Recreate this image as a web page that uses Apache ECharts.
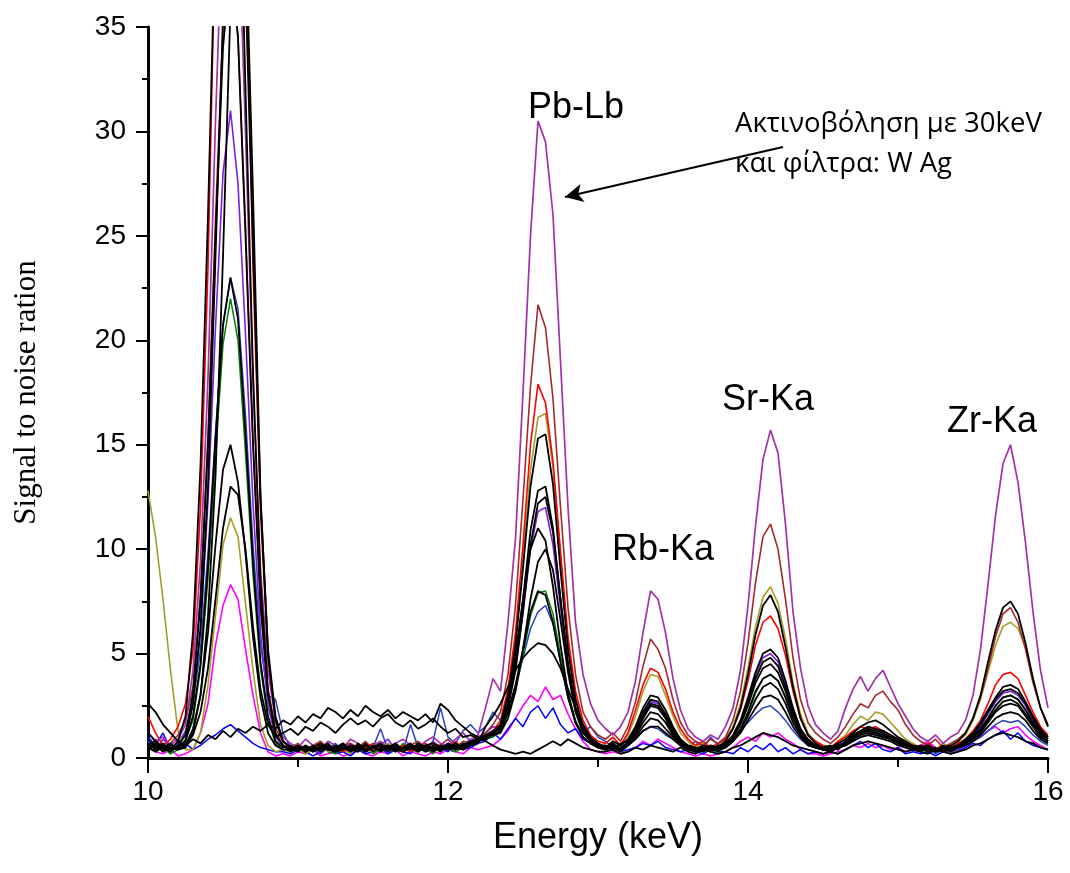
<!DOCTYPE html>
<html><head><meta charset="utf-8">
<script src="https://cdn.jsdelivr.net/npm/echarts@6/dist/echarts.min.js"></script>
<style>html,body{margin:0;padding:0;background:#fff}#c{width:1070px;height:873px}</style>
</head><body><div id="c"></div>
<script>
const energy = [10.00,10.05,10.10,10.15,10.20,10.25,10.30,10.35,10.40,10.45,10.50,10.55,10.60,10.65,10.70,10.75,10.80,10.85,10.90,10.95,
11.00,11.05,11.10,11.15,11.20,11.25,11.30,11.35,11.40,11.45,11.50,11.55,11.60,11.65,11.70,11.75,11.80,11.85,11.90,11.95,
12.00,12.05,12.10,12.15,12.20,12.25,12.30,12.35,12.40,12.45,12.50,12.55,12.60,12.65,12.70,12.75,12.80,12.85,12.90,12.95,
13.00,13.05,13.10,13.15,13.20,13.25,13.30,13.35,13.40,13.45,13.50,13.55,13.60,13.65,13.70,13.75,13.80,13.85,13.90,13.95,
14.00,14.05,14.10,14.15,14.20,14.25,14.30,14.35,14.40,14.45,14.50,14.55,14.60,14.65,14.70,14.75,14.80,14.85,14.90,14.95,
15.00,15.05,15.10,15.15,15.20,15.25,15.30,15.35,15.40,15.45,15.50,15.55,15.60,15.65,15.70,15.75,15.80,15.85,15.90,15.95,16.00];

const purple = [1.2,0.8,1.0,0.6,0.9,1.6,
 4.2,9.4,18.2,30.5,41,45,41,30,18,9,4.2,1.8,1.0,
 0.7,0.5,0.9,0.6,0.4,0.8,0.6,0.5,0.9,0.7,0.4,0.6,0.8,0.5,0.7,0.9,0.6,0.5,0.8,1.0,0.7,0.6,0.9,1.2,0.8,1.1,
 2.4,3.8,3.2,6.5,10.5,17.5,25,30.5,29.5,26,19,12,6.5,4.0,2.6,1.8,
 1.4,1.1,1.5,
 2.2,3.7,6.0,8.0,7.6,6.0,3.8,2.3,1.4,
 1.0,0.8,1.1,0.9,
 1.5,2.4,4.2,7.3,11.1,14.3,15.7,14.6,11.2,7.0,4.3,2.5,1.6,1.2,
 0.9,1.3,
 2.4,3.3,3.9,3.2,3.8,4.2,3.4,2.6,2.0,1.4,
 1.0,0.8,1.1,0.7,1.0,
 1.2,1.8,3.0,5.2,8.3,11.6,14.1,15.0,13.2,10.3,7.0,4.2,2.4];

const maroon = [0.5,0.9,0.4,0.7,1.1,1.8,
 3.4,7.9,15.4,25.8,35,38.5,34.5,25.5,15.2,7.6,3.3,1.4,0.8,
 0.5,0.7,0.4,0.6,0.8,0.5,0.3,0.6,0.7,0.5,0.8,0.4,0.6,0.5,0.7,0.4,0.6,0.8,0.5,0.7,0.6,0.9,0.5,0.8,0.7,1.0,
 1.2,1.6,2.2,4.0,7.3,12.4,17.8,21.7,20.6,17.2,12.0,7.2,4.0,2.2,1.5,1.1,
 0.9,1.2,0.8,
 1.5,2.7,4.4,5.7,5.2,4.3,2.8,1.7,1.1,
 0.8,0.6,0.9,0.7,
 1.0,1.8,3.2,5.5,8.4,10.6,11.2,10.0,7.6,4.8,2.8,1.7,1.2,0.9,
 0.7,1.0,
 1.5,2.1,2.6,2.4,3.0,3.2,2.7,2.3,1.6,1.1,
 0.8,0.6,0.9,0.5,0.7,
 0.9,1.2,1.9,2.9,4.3,5.8,6.9,7.2,6.5,5.2,3.6,2.4,1.6];

const red = [2.0,1.2,0.6,0.9,1.5,2.6,
 5.2,12,23.5,40,54,60,54,40,23.5,11.8,4.8,1.8,0.8,
 0.4,0.6,0.3,0.5,0.7,0.4,0.5,0.3,0.6,0.4,0.5,0.7,0.3,0.5,0.4,0.6,0.3,0.5,0.7,0.4,0.6,0.5,0.8,0.4,0.6,0.9,
 1.0,1.3,1.8,3.3,6.0,10.2,15.0,17.9,17.0,14.2,9.9,5.8,3.2,1.8,1.1,0.8,
 0.7,1.0,0.6,
 1.2,2.3,3.5,4.3,4.1,3.3,2.2,1.4,0.9,
 0.6,0.8,0.5,0.7,
 0.9,1.4,2.3,3.7,5.4,6.5,6.8,6.2,4.9,3.2,1.9,1.1,0.8,0.6,
 0.5,0.8,
 1.0,1.3,1.5,1.4,1.5,1.3,1.1,0.9,0.7,0.6,
 0.5,0.7,0.4,0.6,0.5,
 0.7,0.9,1.3,1.8,2.6,3.5,4.0,4.1,3.8,3.0,2.2,1.5,1.1];

const olive = [12.8,10.6,7.6,4.2,1.3,0.4,
 0.4,1.2,3.5,6.8,10.2,11.5,10.6,7.4,4.2,1.6,0.6,0.3,0.4,
 0.3,0.5,0.2,0.4,0.6,0.3,0.5,0.4,0.2,0.6,0.4,0.3,0.5,0.7,0.4,0.3,0.6,0.4,0.5,0.3,0.6,0.4,0.7,0.5,0.6,0.8,
 0.9,1.1,1.6,3.0,5.6,9.5,13.8,16.3,16.5,13.9,9.6,5.5,3.0,1.5,0.9,0.6,
 0.5,0.8,0.6,
 1.1,2.0,3.2,4.0,3.9,3.0,2.0,1.2,0.8,
 0.5,0.7,0.4,0.6,
 0.9,1.5,2.6,4.3,6.3,7.7,8.2,7.4,5.7,3.6,2.1,1.2,0.8,0.6,
 0.5,0.8,
 1.1,1.6,2.0,1.8,2.2,2.1,1.7,1.3,0.9,0.7,
 0.5,0.6,0.4,0.7,0.5,
 0.8,1.1,1.8,2.8,4.1,5.4,6.3,6.5,6.2,5.3,3.8,2.4,1.5];

const blueA = [0.8,0.4,0.6,0.3,0.7,1.3,
 2.6,5.2,9.8,15.6,20.8,23,21.5,16.4,10.2,5.4,3.0,2.8,1.2,
 0.5,0.3,0.6,0.4,0.2,0.5,0.7,0.3,0.4,0.6,0.3,0.5,1.4,0.4,0.6,0.3,1.6,0.5,0.4,0.8,2.4,1.0,0.7,1.3,1.6,1.2,
 1.5,2.2,1.8,2.3,3.4,4.8,6.2,7.0,7.3,6.4,4.6,2.9,1.7,1.2,1.5,1.0,
 0.8,0.5,0.7,
 0.6,0.9,1.3,1.5,1.4,1.1,0.9,0.6,0.5,
 0.8,0.4,1.0,0.6,
 0.7,0.9,1.3,1.7,2.1,2.4,2.5,2.2,1.8,1.3,0.9,0.6,0.5,0.4,
 0.3,0.5,
 0.6,0.8,1.0,1.1,1.2,1.0,0.9,0.7,0.5,0.4,
 0.3,0.5,0.2,0.4,0.3,
 0.4,0.6,0.8,1.0,1.3,1.6,1.8,1.7,1.8,1.5,1.1,0.8,0.6];

const blueB = [1.0,0.6,1.2,0.4,0.5,0.7,
 0.4,0.6,0.9,1.1,1.4,1.6,1.3,1.0,0.7,0.5,0.4,0.3,0.3,
 0.2,0.4,0.3,0.1,0.3,0.5,0.2,0.3,0.1,0.4,0.2,0.3,0.5,0.2,0.4,0.3,0.2,0.6,0.3,0.4,0.5,0.3,0.6,0.4,0.5,0.7,
 0.8,1.2,0.9,1.4,1.9,1.5,2.2,2.5,1.9,2.4,1.6,1.2,1.4,0.9,0.7,0.5,
 0.4,0.6,0.3,
 0.4,0.5,0.7,0.6,0.8,0.5,0.4,0.3,0.4,
 0.3,0.2,0.4,0.3,
 0.3,0.2,0.5,0.3,0.6,0.4,0.7,0.3,0.5,0.2,0.4,0.2,0.3,0.2,
 0.3,0.2,
 0.4,0.6,0.8,0.5,0.7,0.4,0.3,0.5,0.2,0.3,
 0.2,0.3,0.1,0.3,0.2,
 0.3,0.5,0.7,0.6,0.9,1.1,1.3,0.9,1.2,0.8,0.6,0.5,0.4];

const magenta = [0.5,0.3,0.2,0.4,0.1,0.2,
 0.4,1.2,2.6,5.4,7.3,8.3,7.6,5.2,3.0,1.2,0.3,0.1,0.2,
 0.1,0.3,0.2,0.4,0.1,0.2,0.3,0.1,0.2,0.4,0.2,0.1,0.3,0.2,0.4,0.1,0.3,0.2,0.1,0.3,0.2,0.4,0.3,0.2,0.5,0.4,
 0.5,0.6,0.9,1.3,1.9,2.5,3.0,2.7,3.4,2.8,3.0,2.1,1.4,0.8,0.4,0.3,
 0.2,0.3,0.2,
 0.3,0.5,0.8,0.6,0.9,0.7,0.5,0.3,0.2,
 0.1,0.2,0.1,0.2,
 0.3,0.5,0.8,1.0,0.8,1.2,1.0,1.2,0.9,0.7,0.4,0.2,0.2,0.1,
 0.2,0.3,
 0.4,0.6,0.5,0.7,0.5,0.6,0.4,0.5,0.3,0.4,
 0.6,0.8,0.5,0.4,0.3,
 0.4,0.5,0.8,1.0,1.3,1.5,1.2,1.4,1.5,1.1,0.8,0.6,0.4];

const green = [0.6,0.3,0.5,0.2,0.4,0.9,
 1.8,4.3,8.6,14.5,19.8,22,20,14.6,8.8,4.3,1.8,0.7,0.4,
 0.3,0.5,0.2,0.4,0.6,0.3,0.2,0.5,0.4,0.3,0.6,0.2,0.4,0.5,0.3,0.7,0.4,0.3,0.5,0.2,0.6,0.4,0.3,0.5,0.6,0.8,
 0.9,1.0,1.3,2.1,3.2,4.9,6.8,7.9,8.0,6.9,4.9,3.1,1.8,1.0,0.7,0.5,
 0.4,0.6,0.3,
 0.7,1.2,1.9,2.5,2.4,1.9,1.2,0.7,0.5,
 0.3,0.5,0.4,0.3,
 0.5,0.8,1.3,2.1,3.1,3.8,4.0,3.7,2.9,1.9,1.2,0.7,0.5,0.4,
 0.3,0.5,
 0.7,0.9,1.1,1.3,1.4,1.2,1.0,0.8,0.6,0.5,
 0.4,0.3,0.5,0.3,0.4,
 0.5,0.7,1.0,1.4,1.9,2.5,2.9,3.0,2.8,2.3,1.7,1.1,0.8];

const violet = [0.7,0.4,0.9,0.5,0.6,1.2,
 2.6,6.1,12.3,20.6,28.0,31,27.5,20.3,12.2,6.0,2.5,1.0,0.6,
 0.4,0.6,0.3,0.5,0.2,0.6,0.4,0.3,0.7,0.4,0.5,0.3,0.6,0.9,0.4,0.5,0.3,0.6,0.4,0.8,0.5,0.7,0.4,0.6,0.9,1.0,
 1.2,1.5,1.4,2.5,4.3,7.0,10.0,11.8,12.0,10.2,7.2,4.3,2.3,1.3,0.9,0.7,
 0.5,0.7,0.4,
 0.8,1.3,2.1,2.7,2.6,2.0,1.3,0.8,0.5,
 0.4,0.6,0.3,0.5,
 0.6,1.0,1.7,2.8,4.0,4.8,5.0,4.6,3.6,2.3,1.4,0.8,0.6,0.4,
 0.4,0.6,
 0.8,1.1,1.3,1.5,1.4,1.3,1.1,0.9,0.7,0.5,
 0.4,0.6,0.3,0.5,0.4,
 0.6,0.8,1.1,1.5,2.1,2.7,3.1,3.2,3.0,2.5,1.8,1.2,0.9];

const black1 = [0.9,0.5,0.7,0.4,0.8,2.0,
 6.0,14,26,40,51,54,46,32,18.5,8.5,3.2,1.2,0.6,
 0.4,0.6,0.3,0.5,0.7,0.4,0.3,0.6,0.5,0.4,0.7,0.3,0.5,0.6,0.4,0.5,0.7,0.3,0.6,0.5,0.4,0.7,0.5,0.6,0.8,0.9,
 1.1,1.3,1.6,3.0,5.4,9.1,13.0,15.3,15.5,13.1,9.0,5.2,2.8,1.5,0.9,0.6,
 0.5,0.8,0.6,
 0.9,1.5,2.4,3.0,2.9,2.3,1.5,0.9,0.6,
 0.5,0.4,0.6,0.5,
 0.8,1.4,2.4,4.0,5.9,7.3,7.8,7.0,5.3,3.4,1.9,1.1,0.7,0.5,
 0.5,0.7,
 0.9,1.2,1.5,1.7,1.8,1.6,1.3,1.0,0.8,0.6,
 0.5,0.6,0.4,0.5,0.6,
 0.8,1.2,1.9,3.0,4.6,6.1,7.2,7.5,6.9,5.5,3.8,2.4,1.5];

const black2 = [0.6,0.8,0.4,0.6,0.5,0.8,
 2.6,6.2,13,24,35.5,43.5,44.5,37,24.5,12.5,5.0,1.8,0.8,
 0.5,0.3,0.6,0.4,0.5,0.7,0.3,0.5,0.4,0.6,0.3,0.5,0.7,0.4,0.6,0.3,0.5,0.4,0.6,0.7,0.5,0.4,0.6,0.5,0.7,0.8,
 1.0,1.2,1.5,2.6,4.6,7.6,10.9,12.8,13.0,11.0,7.6,4.5,2.4,1.3,0.8,0.6,
 0.6,0.4,0.7,
 0.8,1.4,2.2,2.8,2.7,2.1,1.4,0.8,0.6,
 0.4,0.6,0.5,0.3,
 0.7,1.1,1.8,2.9,4.1,5.0,5.2,4.8,3.7,2.4,1.4,0.9,0.6,0.5,
 0.6,0.4,
 0.8,1.1,1.3,1.5,1.4,1.3,1.1,0.9,0.7,0.5,
 0.6,0.4,0.5,0.3,0.5,
 0.6,0.9,1.2,1.7,2.3,2.9,3.4,3.5,3.3,2.7,2.0,1.4,1.0];

const black3 = [0.4,0.7,0.5,0.3,0.6,1.1,
 3.1,7.5,15,25,34,38,34.5,25,15,7.3,3.0,1.1,0.6,
 0.3,0.5,0.4,0.6,0.3,0.5,0.4,0.7,0.3,0.5,0.4,0.6,0.3,0.5,0.7,0.4,0.5,0.3,0.6,0.4,0.5,0.6,0.4,0.7,0.6,0.8,
 0.9,1.1,1.6,2.9,4.9,7.6,10.0,11.0,10.4,8.2,5.4,3.1,1.7,1.0,0.7,0.5,
 0.5,0.7,0.4,
 0.7,1.2,1.9,2.5,2.4,1.9,1.2,0.7,0.5,
 0.5,0.3,0.6,0.4,
 0.6,1.0,1.6,2.5,3.6,4.3,4.5,4.1,3.2,2.1,1.3,0.8,0.6,0.4,
 0.5,0.6,
 0.7,1.0,1.2,1.3,1.2,1.1,0.9,0.8,0.6,0.5,
 0.4,0.5,0.3,0.6,0.4,
 0.5,0.7,1.0,1.4,1.9,2.5,2.9,3.0,2.8,2.3,1.7,1.2,0.9];

const black4 = [0.5,0.3,0.6,0.4,0.5,0.8,
 2.0,4.5,9.2,15.3,20.7,23,21,15.5,9.4,4.6,2.0,0.8,0.5,
 0.6,0.4,0.5,0.3,0.6,0.4,0.5,0.7,0.4,0.3,0.6,0.5,0.4,0.6,0.3,0.5,0.4,0.7,0.5,0.3,0.6,0.5,0.4,0.6,0.7,0.9,
 1.0,1.1,1.2,1.9,3.2,5.2,7.6,9.4,10.0,9.0,6.6,4.1,2.2,1.2,0.8,0.6,
 0.4,0.6,0.5,
 0.7,1.1,1.7,2.2,2.1,1.7,1.1,0.7,0.5,
 0.3,0.5,0.4,0.6,
 0.6,0.9,1.4,2.2,3.2,3.8,4.0,3.7,2.9,1.9,1.2,0.7,0.5,0.4,
 0.4,0.5,
 0.6,0.9,1.1,1.2,1.1,1.0,0.9,0.7,0.5,0.4,
 0.5,0.3,0.4,0.5,0.3,
 0.5,0.7,0.9,1.2,1.7,2.2,2.5,2.6,2.5,2.0,1.5,1.0,0.8];

const black5 = [0.7,0.4,0.5,0.3,0.6,0.6,
 1.4,3.0,6.0,10.2,13.8,15,13.2,9.8,5.8,2.9,1.2,0.6,0.4,
 0.4,0.6,0.3,0.5,0.4,0.6,0.3,0.4,0.6,0.5,0.3,0.5,0.4,0.6,0.4,0.3,0.5,0.6,0.4,0.5,0.3,0.6,0.5,0.4,0.6,0.7,
 1.5,2.0,2.6,3.4,4.2,4.8,5.2,5.5,5.4,5.0,4.3,3.3,2.4,1.6,1.0,0.7,
 0.5,0.6,0.4,
 0.6,0.9,1.3,1.5,1.5,1.2,0.9,0.6,0.5,
 0.4,0.3,0.5,0.4,
 0.5,0.8,1.2,1.8,2.4,2.9,3.0,2.8,2.2,1.5,1.0,0.6,0.5,0.4,
 0.3,0.5,
 0.6,0.8,1.0,1.1,1.0,0.9,0.8,0.6,0.5,0.4,
 0.3,0.5,0.4,0.3,0.4,
 0.5,0.6,0.8,1.1,1.5,1.9,2.1,2.2,2.1,1.8,1.3,0.9,0.7];

const black6 = [2.6,2.2,1.6,1.2,0.8,0.6,
 0.9,0.7,1.1,0.9,1.3,1.0,1.4,1.2,1.5,1.3,1.6,1.4,1.8,
 1.6,2.0,1.7,2.1,1.9,2.4,2.2,1.9,2.3,2.0,2.5,2.2,2.0,2.3,1.9,2.2,2.0,1.8,2.1,1.7,2.6,2.3,1.8,1.5,1.2,1.0,
 0.8,0.6,0.4,0.3,0.2,0.3,0.2,0.4,0.6,0.8,0.6,0.9,0.7,0.5,0.4,0.3,
 0.3,0.4,0.2,
 0.3,0.5,0.4,0.6,0.5,0.4,0.3,0.5,0.3,
 0.2,0.4,0.3,0.2,
 0.3,0.5,0.6,0.8,1.0,1.2,1.1,1.0,0.8,0.6,0.5,0.4,0.3,0.2,
 0.3,0.2,
 0.4,0.6,0.7,0.8,0.7,0.6,0.5,0.4,0.3,0.4,
 0.3,0.2,0.4,0.3,0.2,
 0.3,0.4,0.6,0.7,0.9,1.1,1.2,1.1,1.0,0.8,0.7,0.5,0.4];

const black7 = [1.2,0.8,0.5,0.7,0.4,0.6,
 1.1,2.2,4.3,7.6,11.0,13.0,12.6,10.0,6.3,3.3,1.6,1.0,1.2,
 1.4,1.1,1.5,1.3,1.7,1.5,1.2,1.6,1.9,1.6,1.8,1.5,1.9,2.1,1.7,1.5,1.8,1.4,1.6,1.9,1.5,1.2,1.4,1.0,1.1,0.9,
 1.0,1.1,1.3,2.2,3.5,5.2,7.0,8.0,7.8,6.5,4.6,2.9,1.7,1.0,0.7,0.5,
 0.4,0.5,0.3,
 0.6,1.0,1.5,1.9,1.8,1.4,1.0,0.6,0.4,
 0.3,0.5,0.4,0.5,
 0.5,0.8,1.3,2.0,2.8,3.4,3.6,3.3,2.6,1.7,1.1,0.7,0.5,0.4,
 0.4,0.6,
 0.7,1.0,1.2,1.4,1.3,1.2,1.0,0.8,0.6,0.5,
 0.4,0.5,0.3,0.4,0.5,
 0.5,0.7,1.0,1.3,1.8,2.3,2.7,2.8,2.6,2.1,1.6,1.1,0.8];

const black8 = [0.5,0.6,0.3,0.5,0.4,0.5,
 1.2,3.0,6.8,13.5,24,36,46,40,27,12.5,5.2,2.0,0.8,
 0.5,0.4,0.6,0.3,0.5,0.4,0.6,0.5,0.3,0.7,0.4,0.5,0.6,0.3,0.5,0.4,0.6,0.5,0.3,0.6,0.4,0.5,0.7,0.5,0.6,0.8,
 1.0,1.2,1.4,2.4,4.2,7.0,10.2,12.2,12.5,10.8,7.6,4.5,2.4,1.3,0.8,0.6,
 0.5,0.6,0.4,
 0.7,1.2,2.0,2.6,2.5,2.0,1.3,0.8,0.5,
 0.4,0.5,0.3,0.5,
 0.6,1.0,1.7,2.7,3.8,4.6,4.8,4.4,3.4,2.2,1.3,0.8,0.6,0.4,
 0.5,0.4,
 0.7,1.0,1.2,1.3,1.2,1.1,1.0,0.8,0.6,0.5,
 0.4,0.6,0.4,0.3,0.5,
 0.6,0.8,1.1,1.6,2.2,2.8,3.2,3.3,3.1,2.6,1.9,1.3,1.0];

const yTicks = [0,5,10,15,20,25,30,35];
const xTicks = [10,12,14,16];
const peakLabels = ['Pb-Lb','Rb-Ka','Sr-Ka','Zr-Ka'];
const noteLines = ['Ακτινοβόληση με 30keV','και φίλτρα: W Ag'];
const arrowFrom = [14.233, 29.25];
const arrowTo = [12.78, 26.86];

const layers = [
  ['magenta', magenta, '#ff00ff', 1.6],
  ['blueB', blueB, '#0000ff', 1.5],
  ['blueA', blueA, '#2a3fc4', 1.5],
  ['green', green, '#008000', 1.5],
  ['violet', violet, '#7a1fe6', 1.6],
  ['olive', olive, '#a39f24', 1.6],
  ['red', red, '#ff0000', 1.6],
  ['maroon', maroon, '#a3282c', 1.6],
  ['purple', purple, '#a033a8', 1.7],
  ['black6', black6, '#000000', 1.8],
  ['black7', black7, '#000000', 1.8],
  ['black5', black5, '#000000', 1.8],
  ['black4', black4, '#000000', 1.8],
  ['black3', black3, '#000000', 1.8],
  ['black8', black8, '#000000', 1.8],
  ['black2', black2, '#000000', 1.8],
  ['black1', black1, '#000000', 1.8]
];

const series = layers.map(([name, vals, color, w]) => ({
  name, type: 'line', data: energy.map((e, i) => [e, vals[i]]),
  showSymbol: false, symbol: 'none', smooth: false, clip: true, silent: true,
  lineStyle: { color, width: w }, itemStyle: { color }, animation: false, z: 2
}));
series[8].markLine = {
  silent: true, symbol: ['none', 'arrow'], symbolSize: [14, 18],
  lineStyle: { color: '#000', width: 2, type: 'solid' }, label: { show: false },
  data: [[{ coord: arrowFrom }, { coord: arrowTo }]], animation: false
};

const chart = echarts.init(document.getElementById('c'), null, { renderer: 'canvas' });
const sans = "'Liberation Sans', Arial, sans-serif";
chart.setOption({
  backgroundColor: '#fff',
  animation: false,
  grid: { left: 148, right: 22, top: 27, bottom: 115, containLabel: false },
  xAxis: {
    type: 'value', min: 10, max: 16, interval: 2,
    name: 'Energy (keV)', nameLocation: 'middle', nameGap: 62,
    nameTextStyle: { fontFamily: sans, fontSize: 36, color: '#000' },
    axisLine: { show: true, onZero: false, lineStyle: { color: '#000', width: 3 } },
    axisTick: { show: true, length: 15, lineStyle: { color: '#000', width: 2 } },
    minorTick: { show: true, splitNumber: 2, length: 9, lineStyle: { color: '#000', width: 2 } },
    axisLabel: { fontFamily: sans, fontSize: 28, color: '#000', margin: 20,
      formatter: v => xTicks.includes(v) ? String(v) : '' },
    splitLine: { show: false }, minorSplitLine: { show: false }
  },
  yAxis: {
    type: 'value', min: 0, max: 35, interval: 5,
    name: 'Signal to noise ration', nameLocation: 'middle', nameGap: 106, nameRotate: 90,
    nameTextStyle: { fontFamily: "'Liberation Serif', 'Times New Roman', serif", fontSize: 31, color: '#000' },
    axisLine: { show: true, lineStyle: { color: '#000', width: 3 } },
    axisTick: { show: true, length: 12, lineStyle: { color: '#000', width: 2 } },
    minorTick: { show: true, splitNumber: 2, length: 6, lineStyle: { color: '#000', width: 2 } },
    axisLabel: { fontFamily: sans, fontSize: 28, color: '#000', margin: 22,
      formatter: v => yTicks.includes(v) ? String(v) : '' },
    splitLine: { show: false }, minorSplitLine: { show: false }
  },
  series,
  graphic: [
    { type: 'text', left: 528, top: 90, style: { text: peakLabels[0], font: "36px 'Liberation Sans'", fill: '#000' } },
    { type: 'text', left: 612, top: 532, style: { text: peakLabels[1], font: "36px 'Liberation Sans'", fill: '#000' } },
    { type: 'text', left: 722, top: 382, style: { text: peakLabels[2], font: "36px 'Liberation Sans'", fill: '#000' } },
    { type: 'text', left: 947, top: 404, style: { text: peakLabels[3], font: "36px 'Liberation Sans'", fill: '#000' } },
    { type: 'text', left: 735, top: 110, style: { text: noteLines[0], font: "27.5px 'Open Sans'", fill: '#000' } },
    { type: 'text', left: 735, top: 150, style: { text: noteLines[1], font: "27.5px 'Open Sans'", fill: '#000' } }
  ]
});
</script></body></html>
